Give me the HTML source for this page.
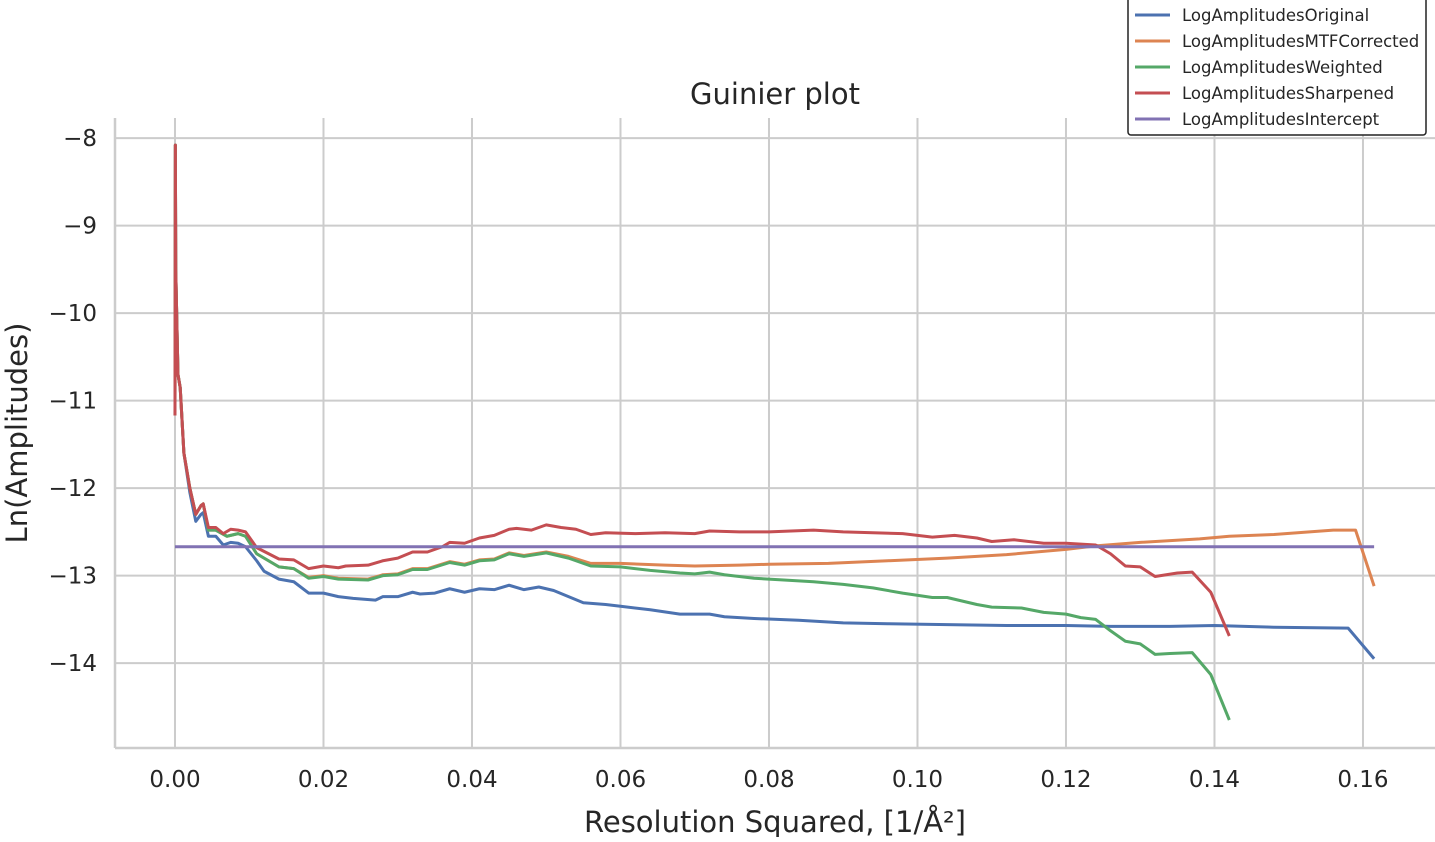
<!DOCTYPE html>
<html><head><meta charset="utf-8"><style>
html,body{margin:0;padding:0;background:#fff;}
svg text{font-family:"DejaVu Sans","Liberation Sans",sans-serif;fill:#262626;}
</style></head><body>
<svg id="chart" width="1435" height="837" xmlns="http://www.w3.org/2000/svg">
<g id="grid"></g>
<g id="axes"></g>
<g id="series"></g>
<text x="775" y="104" font-size="29" text-anchor="middle">Guinier plot</text>
<text x="775" y="832" font-size="29" text-anchor="middle">Resolution Squared, [1/Å²]</text>
<text transform="translate(27,433) rotate(-90)" font-size="29" text-anchor="middle">Ln(Amplitudes)</text>
<g>
<rect x="1128" y="-4" width="298" height="139" rx="3" fill="#fff" stroke="#222" stroke-width="1.5"/>
<g id="legend-entries"></g>
</g>
</svg>
<script>
const xTicks=[0,0.02,0.04,0.06,0.08,0.10,0.12,0.14,0.16];
const xTickLabels=["0.00","0.02","0.04","0.06","0.08","0.10","0.12","0.14","0.16"];
const yTicks=[-8,-9,-10,-11,-12,-13,-14];
const yTickLabels=["−8","−9","−10","−11","−12","−13","−14"];
const seriesNames=["LogAmplitudesOriginal","LogAmplitudesMTFCorrected","LogAmplitudesWeighted","LogAmplitudesSharpened","LogAmplitudesIntercept"];
const seriesColors=["#4c72b0","#dd8452","#55a868","#c44e52","#8172b3"];
const headX=[0,0.00005,0.0001,0.0004,0.0007,0.0012,0.002,0.0028,0.0035,0.0038];
const headY=[-11.17,-8.08,-9.5,-10.7,-10.85,-11.6,-12.0,-12.3,-12.2,-12.18];
const blueHeadY=[-11.17,-8.08,-9.5,-10.7,-10.85,-11.6,-12.05,-12.38,-12.3,-12.28];
const origX=[0.0045,0.0055,0.0065,0.0075,0.0085,0.0095,0.011,0.012,0.014,0.016,0.018,0.020,0.022,0.024,0.027,0.028,0.030,0.032,0.033,0.035,0.037,0.039,0.041,0.043,0.045,0.047,0.049,0.051,0.053,0.055,0.058,0.060,0.064,0.068,0.072,0.074,0.078,0.084,0.090,0.096,0.104,0.112,0.120,0.126,0.134,0.140,0.148,0.158,0.1615];
const origY=[-12.55,-12.55,-12.65,-12.62,-12.63,-12.67,-12.83,-12.95,-13.04,-13.07,-13.2,-13.2,-13.24,-13.26,-13.28,-13.24,-13.24,-13.19,-13.21,-13.2,-13.15,-13.19,-13.15,-13.16,-13.11,-13.16,-13.13,-13.17,-13.24,-13.31,-13.33,-13.35,-13.39,-13.44,-13.44,-13.47,-13.49,-13.51,-13.54,-13.55,-13.56,-13.57,-13.57,-13.58,-13.58,-13.57,-13.59,-13.6,-13.95];
const wX=[0.0045,0.0055,0.007,0.0085,0.0095,0.011,0.014,0.016,0.018,0.020,0.022,0.026,0.028,0.030,0.032,0.034,0.037,0.039,0.041,0.043,0.045,0.047,0.050,0.053,0.056,0.060,0.064,0.068,0.070,0.072,0.074,0.078,0.082,0.086,0.090,0.094,0.098,0.102,0.104,0.108,0.110,0.114,0.117,0.120,0.122,0.124,0.126,0.128,0.130,0.132,0.134,0.137,0.1395,0.142];
const wY=[-12.48,-12.48,-12.55,-12.52,-12.55,-12.75,-12.9,-12.92,-13.03,-13.01,-13.04,-13.05,-13.0,-12.99,-12.93,-12.93,-12.85,-12.88,-12.83,-12.82,-12.75,-12.78,-12.74,-12.8,-12.89,-12.9,-12.94,-12.97,-12.98,-12.96,-12.99,-13.03,-13.05,-13.07,-13.1,-13.14,-13.2,-13.25,-13.25,-13.33,-13.36,-13.37,-13.42,-13.44,-13.48,-13.5,-13.63,-13.75,-13.78,-13.9,-13.89,-13.88,-14.13,-14.65];
const mtfX=[0.0045,0.0055,0.007,0.0085,0.0095,0.011,0.014,0.016,0.018,0.020,0.022,0.026,0.028,0.030,0.032,0.034,0.037,0.039,0.041,0.043,0.045,0.047,0.050,0.053,0.056,0.060,0.066,0.070,0.076,0.080,0.088,0.096,0.104,0.112,0.120,0.124,0.130,0.138,0.142,0.148,0.156,0.159,0.1615];
const mtfY=[-12.48,-12.48,-12.55,-12.52,-12.55,-12.75,-12.9,-12.92,-13.02,-13.0,-13.03,-13.04,-12.99,-12.98,-12.92,-12.92,-12.84,-12.87,-12.82,-12.81,-12.74,-12.77,-12.73,-12.78,-12.86,-12.86,-12.88,-12.89,-12.88,-12.87,-12.86,-12.83,-12.8,-12.76,-12.7,-12.66,-12.62,-12.58,-12.55,-12.53,-12.48,-12.48,-13.12];
const shX=[0.0045,0.0055,0.0065,0.0075,0.0085,0.0095,0.011,0.014,0.016,0.018,0.020,0.022,0.023,0.026,0.028,0.030,0.032,0.034,0.036,0.037,0.039,0.041,0.043,0.045,0.046,0.048,0.050,0.052,0.054,0.056,0.058,0.062,0.066,0.070,0.072,0.076,0.080,0.086,0.090,0.094,0.098,0.102,0.105,0.108,0.110,0.113,0.117,0.120,0.124,0.126,0.128,0.130,0.132,0.135,0.137,0.1395,0.142];
const shY=[-12.45,-12.45,-12.52,-12.47,-12.48,-12.5,-12.68,-12.81,-12.82,-12.92,-12.89,-12.91,-12.89,-12.88,-12.83,-12.8,-12.73,-12.73,-12.67,-12.62,-12.63,-12.57,-12.54,-12.47,-12.46,-12.48,-12.42,-12.45,-12.47,-12.53,-12.51,-12.52,-12.51,-12.52,-12.49,-12.5,-12.5,-12.48,-12.5,-12.51,-12.52,-12.56,-12.54,-12.57,-12.61,-12.59,-12.63,-12.63,-12.65,-12.75,-12.89,-12.9,-13.01,-12.97,-12.96,-13.19,-13.69];
const interceptX=[0,0.1615];
const interceptY=[-12.67,-12.67];

const X0=115,X1=1435,Y0=118,Y1=748;
const xmin=-0.00808,xmax=0.1697,ymin=-14.97,ymax=-7.77;
const sx=v=>X0+(v-xmin)/(xmax-xmin)*(X1-X0);
const sy=v=>Y1-(v-ymin)/(ymax-ymin)*(Y1-Y0);
const NS="http://www.w3.org/2000/svg";
function mk(tag,attrs,parent){const e=document.createElementNS(NS,tag);for(const k in attrs)e.setAttribute(k,attrs[k]);parent.appendChild(e);return e;}
const grid=document.getElementById('grid'),axes=document.getElementById('axes'),ser=document.getElementById('series');
xTicks.forEach((t,i)=>{
  const l=mk('line',{x1:sx(t),x2:sx(t),y1:Y0,y2:Y1,stroke:'#cccccc','stroke-width':2},grid);
  
  
  const tx=mk('text',{x:sx(t),y:787,'font-size':23,'text-anchor':'middle'},axes);
  tx.textContent=xTickLabels[i];
  
  
});
yTicks.forEach((t,i)=>{
  const l=mk('line',{x1:X0,x2:X1,y1:sy(t),y2:sy(t),stroke:'#cccccc','stroke-width':2},grid);
  
  
  const tx=mk('text',{x:97,y:sy(t)+8,'font-size':23,'text-anchor':'end'},axes);
  tx.textContent=yTickLabels[i];
  
  
});
const ls=mk('line',{x1:X0,x2:X0,y1:Y0,y2:Y1,stroke:'#cccccc','stroke-width':2.5},axes);


const bs=mk('line',{x1:X0,x2:X1,y1:Y1,y2:Y1,stroke:'#cccccc','stroke-width':2.5},axes);



function path(xs,ys,color,name){
  const d=xs.map((x,i)=>(i?'L':'M')+sx(x).toFixed(2)+','+sy(ys[i]).toFixed(2)).join(' ');
  const p=mk('path',{d:d,fill:'none',stroke:color,'stroke-width':3,'stroke-linejoin':'round'},ser);
  
  
}
path(headX.concat(origX),blueHeadY.concat(origY),seriesColors[0],'line-original');
path(headX.concat(mtfX),headY.concat(mtfY),seriesColors[1],'line-mtf-corrected');
path(headX.concat(wX),headY.concat(wY),seriesColors[2],'line-weighted');
path(headX.concat(shX),headY.concat(shY),seriesColors[3],'line-sharpened');
path(interceptX,interceptY,seriesColors[4],'line-intercept');

const le=document.getElementById('legend-entries');
seriesNames.forEach((n,i)=>{
  const y=15+i*26;
  const l=mk('line',{x1:1135,x2:1170,y1:y,y2:y,stroke:seriesColors[i],'stroke-width':3},le);
  
  
  const t=mk('text',{x:1182,y:y+6,'font-size':16.5},le);
  t.textContent=n;
  
  
});
</script>
</body></html>
